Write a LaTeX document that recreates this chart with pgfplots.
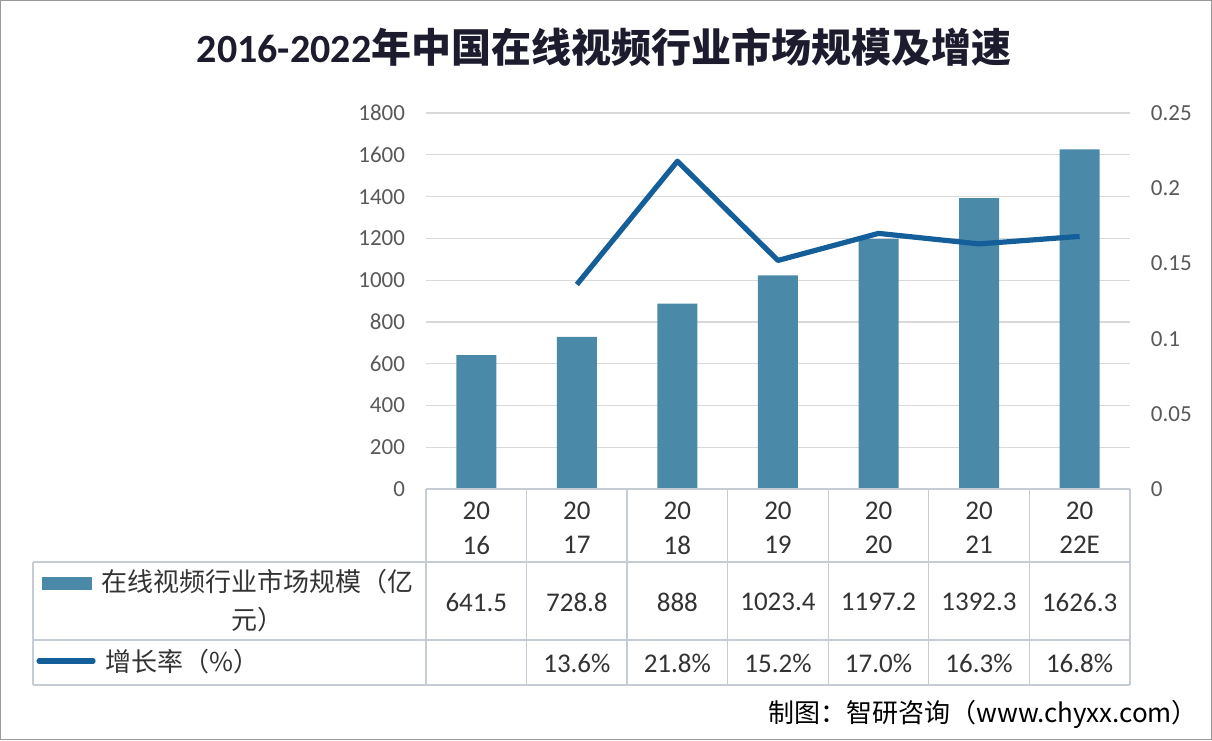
\documentclass[border=0pt]{standalone}
\usepackage{pgfplots}
\pgfplotsset{compat=1.18}
\usepackage{fontspec}
\setmainfont{Carlito}
\newfontfamily\cjk{Noto Sans CJK SC}
\definecolor{barc}{HTML}{4A8AA8}
\definecolor{linec}{HTML}{145E9A}
\definecolor{gridc}{HTML}{D9D9D9}
\definecolor{tabc}{HTML}{C5CCD4}
\definecolor{tickc}{HTML}{595959}
\definecolor{txt}{HTML}{333333}
\definecolor{titlec}{HTML}{1C1C2E}
\begin{document}
\begin{tikzpicture}
% left axis: market size (bars)
\begin{axis}[at={(0,0)}, anchor=south west, scale only axis,
  width=352pt, height=188pt,
  xmin=-0.5, xmax=6.5, ymin=0, ymax=1800,
  xtick=\empty, ytick={0,200,...,1800},
  ymajorgrids, grid style={gridc, line width=0.6pt},
  axis line style={draw=none}, tick style={draw=none},
  yticklabel style={font=\fontsize{11.5}{13}\selectfont, text=tickc, xshift=-7pt},
  /pgf/number format/assume math mode=true,
  /pgf/number format/1000 sep={},
  clip=false]
\addplot[ybar, bar width=20pt, fill=barc, draw=none] coordinates {
(0,641.5) (1,728.8) (2,888) (3,1023.4) (4,1197.2) (5,1392.3) (6,1626.3)
};
\end{axis}
% right axis: growth rate (line)
\begin{axis}[at={(0,0)}, anchor=south west, scale only axis,
  width=352pt, height=188pt,
  xmin=-0.5, xmax=6.5, ymin=0, ymax=0.25,
  axis y line*=right, axis x line=none,
  ytick={0,0.05,0.1,0.15,0.2,0.25},
  yticklabels={0,0.05,0.1,0.15,0.2,0.25},
  axis line style={draw=none}, tick style={draw=none},
  yticklabel style={font=\fontsize{11.5}{13}\selectfont, text=tickc, xshift=7pt},
  clip=false]
\addplot[linec, line width=2.6pt, line join=round] coordinates {
(1,0.136) (2,0.218) (3,0.152) (4,0.170) (5,0.163) (6,0.168)
};
\end{axis}
% title, data table, legend, source -- image pixel coordinates
\begin{scope}[shift={(-213pt,244.5pt)}, x=0.5pt, y=-0.5pt]
\draw[gray!80, line width=0.6pt] (0.5,0.5) rectangle (1211.5,739.5);
\node[text=titlec, font=\fontsize{20}{22}\selectfont\bfseries] at (604,47)
  {2016-2022{\cjk\bfseries 年中国在线视频行业市场规模及增速}};
% table grid
\draw[tabc, line width=0.6pt] (426,489) -- (1130,489);
\draw[tabc, line width=0.6pt] (33,562) -- (1130,562);
\draw[tabc, line width=0.6pt] (33,640) -- (1130,640);
\draw[tabc, line width=0.6pt] (33,685) -- (1130,685);
\draw[tabc, line width=0.6pt] (33,562) -- (33,685);
\foreach \x in {426,526.6,627.1,727.7,828.3,928.9,1029.4,1130}
  \draw[tabc, line width=0.6pt] (\x,489) -- (\x,685);
% table text
\foreach \x/\yr/\v in {476.3/16/641.5, 576.9/17/728.8, 677.4/18/888,
    778.0/19/1023.4, 878.6/20/1197.2, 979.1/21/1392.3, 1079.7/22E/1626.3} {
  \node[text=txt, font=\fontsize{13.5}{15}\selectfont] at (\x,511) {20};
  \node[text=txt, font=\fontsize{13.5}{15}\selectfont] at (\x,545) {\yr};
  \node[text=txt, font=\fontsize{13.5}{15}\selectfont] at (\x,602) {\v};
}
\foreach \x/\g in {576.9/13.6, 677.4/21.8, 778.0/15.2, 878.6/17.0,
    979.1/16.3, 1079.7/16.8}
  \node[text=txt, font=\fontsize{13.5}{15}\selectfont] at (\x,663) {\g\%};
% legend cells
\fill[barc] (42,577) rectangle (92,590);
\node[text=txt, font=\fontsize{13}{19}\selectfont\cjk, align=center] at (257,601)
  {在线视频行业市场规模（亿\\元）};
\draw[linec, line width=2.6pt, line cap=round] (39,661) -- (93,661);
\node[text=txt, font=\fontsize{13}{15}\selectfont\cjk, anchor=west] at (98,662)
  {增长率（\%）};
% source
\node[text=black, font=\fontsize{13}{15}\selectfont\cjk, anchor=east] at (1205,714)
  {制图：智研咨询（www.chyxx.com）};
\end{scope}
\end{tikzpicture}
\end{document}
